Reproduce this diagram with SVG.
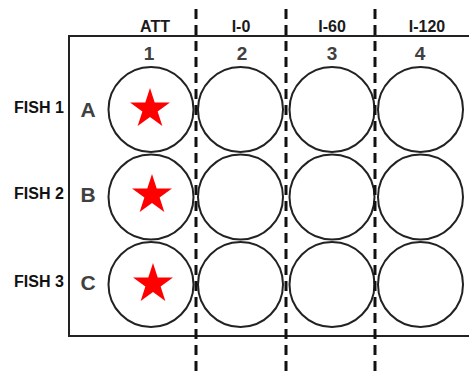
<svg xmlns="http://www.w3.org/2000/svg" width="469" height="375" viewBox="0 0 469 375">
<style>
.well{fill:none;stroke:#222;stroke-width:2}
.dash{stroke:#111;stroke-width:3;stroke-dasharray:10 6}
.star{fill:#ff0000}
.hdr{font-family:"Liberation Sans",Arial,sans-serif;font-weight:bold;font-size:16px;fill:#1a1a1a;text-anchor:middle}
.num{font-family:"Liberation Sans",Arial,sans-serif;font-weight:bold;font-size:19px;fill:#404040;text-anchor:middle}
.row{font-family:"Liberation Sans",Arial,sans-serif;font-weight:bold;font-size:21px;fill:#404040;text-anchor:middle}
.fish{font-family:"Liberation Sans",Arial,sans-serif;font-weight:bold;font-size:16px;fill:#111}
</style>
<defs>
<polygon id="star" class="star" points="0,-21 4.71,-6.49 19.97,-6.49 7.63,2.48 12.34,16.99 0,8.02 -12.34,16.99 -7.63,2.48 -19.97,-6.49 -4.71,-6.49"/>
</defs>
<g id="plate">
<path d="M469,36 H69 V336 H469" fill="none" stroke="#222" stroke-width="2"/>
</g>
<g id="headers">
<text class="hdr" x="155" y="32">ATT</text>
<text class="hdr" x="241" y="32">I-0</text>
<text class="hdr" x="332" y="32">I-60</text>
<text class="hdr" x="427" y="32">I-120</text>
<text class="num" x="149" y="60">1</text>
<text class="num" x="242" y="60">2</text>
<text class="num" x="332" y="60">3</text>
<text class="num" x="420" y="60">4</text>
</g>
<g id="rowlabels">
<text class="fish" x="14" y="113">FISH 1</text>
<text class="fish" x="14" y="199">FISH 2</text>
<text class="fish" x="14" y="287">FISH 3</text>
<text class="row" x="88" y="117">A</text>
<text class="row" x="88" y="202">B</text>
<text class="row" x="88" y="290">C</text>
</g>
<g id="row-A">
<circle class="well" cx="151" cy="109.5" r="42.5"/>
<circle class="well" cx="240.5" cy="109.5" r="42.5"/>
<circle class="well" cx="332" cy="109.5" r="42.5"/>
<circle class="well" cx="420.5" cy="109.5" r="42.5"/>
<use href="#star" x="150" y="109"/>
</g>
<g id="row-B">
<circle class="well" cx="151" cy="197" r="42.5"/>
<circle class="well" cx="240.5" cy="197" r="42.5"/>
<circle class="well" cx="332" cy="197" r="42.5"/>
<circle class="well" cx="420.5" cy="197" r="42.5"/>
<use href="#star" x="152" y="195"/>
</g>
<g id="row-C">
<circle class="well" cx="151" cy="284.5" r="42.5"/>
<circle class="well" cx="240.5" cy="284.5" r="42.5"/>
<circle class="well" cx="332" cy="284.5" r="42.5"/>
<circle class="well" cx="420.5" cy="284.5" r="42.5"/>
<use href="#star" x="153" y="284"/>
</g>
<g id="connectors">
<line class="dash" x1="196" y1="9" x2="196" y2="375"/>
<line class="dash" x1="286" y1="9" x2="286" y2="375"/>
<line class="dash" x1="375" y1="9" x2="375" y2="375"/>
</g>
</svg>
